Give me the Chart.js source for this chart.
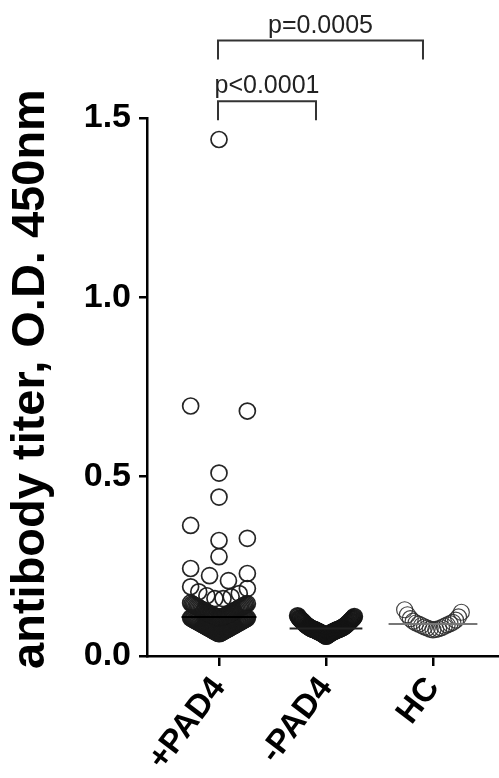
<!DOCTYPE html>
<html><head><meta charset="utf-8">
<script src="https://cdn.jsdelivr.net/npm/chart.js@4.4.1/dist/chart.umd.min.js"></script>
<style>html,body{margin:0;padding:0;background:#fff;overflow:hidden}canvas{display:block}</style>
</head><body><canvas id="c" width="499" height="778" style="width:499px;height:778px"></canvas>
<script>
// ---------- data ----------
const categories = ['+PAD4', '-PAD4', 'HC'];
const pad4Pos = [1.44, 0.697, 0.683, 0.51, 0.443, 0.364, 0.328, 0.322, 0.277, 0.244, 0.23, 0.224, 0.21,
  0.193, 0.188, 0.179, 0.174, 0.168, 0.165, 0.16, 0.16,
  0.148, 0.146, 0.145, 0.144, 0.143, 0.142, 0.141, 0.140, 0.139, 0.138, 0.137, 0.136, 0.135, 0.134,
  0.133, 0.132, 0.131, 0.130, 0.129, 0.128, 0.127, 0.126, 0.125, 0.124, 0.123, 0.122, 0.121, 0.120,
  0.119, 0.118, 0.117, 0.116, 0.116, 0.115, 0.114, 0.113, 0.113, 0.112, 0.111, 0.110, 0.110, 0.109,
  0.108, 0.108, 0.107,
  0.106, 0.106, 0.105, 0.104, 0.103, 0.103, 0.102, 0.101, 0.100, 0.100, 0.099, 0.098, 0.097, 0.097,
  0.096, 0.095, 0.094, 0.094, 0.093, 0.092, 0.091, 0.091, 0.090, 0.089, 0.088, 0.088, 0.087, 0.086,
  0.085, 0.085, 0.084, 0.083, 0.082, 0.082, 0.081, 0.080, 0.079, 0.079, 0.078, 0.077, 0.076, 0.076,
  0.075, 0.074, 0.073, 0.073, 0.072, 0.071, 0.070, 0.070, 0.069, 0.068, 0.067, 0.067, 0.066, 0.065,
  0.064, 0.064, 0.063, 0.062];
const pad4Neg = [0.112, 0.110, 0.109, 0.107, 0.106, 0.105, 0.104, 0.103, 0.102, 0.101, 0.100, 0.099,
  0.098, 0.097, 0.096, 0.095, 0.094, 0.093, 0.092, 0.091, 0.090, 0.089, 0.088, 0.087, 0.086, 0.086,
  0.085, 0.084, 0.083, 0.083, 0.082, 0.081, 0.081, 0.080, 0.079, 0.079, 0.078, 0.078, 0.077, 0.077,
  0.076, 0.076, 0.075, 0.075, 0.074, 0.074, 0.074, 0.073, 0.073, 0.073, 0.072, 0.072, 0.071, 0.071,
  0.070, 0.070, 0.069, 0.069, 0.068, 0.068, 0.067, 0.067, 0.066, 0.066, 0.065, 0.065, 0.064, 0.064,
  0.063, 0.062, 0.062, 0.061, 0.060, 0.060, 0.059, 0.058, 0.057, 0.057, 0.056, 0.055];
const healthy = [0.129, 0.122, 0.115, 0.109, 0.104, 0.100, 0.097, 0.094, 0.092, 0.090, 0.089, 0.087,
  0.085, 0.083, 0.081, 0.079, 0.078, 0.076, 0.075, 0.074, 0.073];
const yTickValues = [0, 0.5, 1.0, 1.5];
const yTitle = 'antibody titer, O.D. 450nm';
const comparisons = [
  { from: 0, to: 1, label: 'p<0.0001' },
  { from: 0, to: 2, label: 'p=0.0005' }
];
const groups = [pad4Pos, pad4Neg, healthy];

// ---------- layout helpers ----------
const FONT = "'Liberation Sans', Arial, Helvetica, sans-serif";
Chart.defaults.font.family = FONT;

// GraphPad-like scatter layout: values grouped in bands, each band spread symmetrically,
// lowest values in the middle (gives the "smile" shapes).
function swarm(values, center, bandH, half) {
  const s = values.slice().sort((a, b) => a - b);
  const pts = []; let i = 0;
  while (i < s.length) {
    const start = s[i], band = [];
    while (i < s.length && s[i] < start + bandH) { band.push(s[i]); i++; }
    const n = band.length;
    if (n === 1) { pts.push({ x: center, y: band[0] }); continue; }
    const step = 2 * half / (n - 1);
    const slots = [];
    for (let j = 0; j < n; j++) slots.push((j - (n - 1) / 2) * step);
    slots.sort((p, q) => (Math.abs(p) - Math.abs(q)) || (q - p));
    band.forEach((v, k) => pts.push({ x: center + slots[k], y: v }));
  }
  return pts;
}
function median(a) {
  const s = a.slice().sort((x, y) => x - y), m = s.length / 2;
  return s.length % 2 ? s[Math.floor(m)] : (s[m - 1] + s[m]) / 2;
}

const bandHeights = [0.045, 0.06, 0.06];
const lineHalf = [0.35, 0.34, 0.415];
const lineColors = ['#000', '#222', '#777'];
const pointStroke = ['rgba(25,25,25,0.95)', 'rgba(20,20,20,0.95)', 'rgba(45,45,45,0.9)'];
const pointWidth = [1.7, 1.7, 1.2];

const datasets = [];
groups.forEach((g, i) => {
  datasets.push({
    type: 'scatter', label: categories[i],
    data: swarm(g, i + 1, bandHeights[i], 0.265),
    pointRadius: 8, pointHoverRadius: 8,
    pointBorderWidth: pointWidth[i], pointBorderColor: pointStroke[i],
    pointBackgroundColor: 'rgba(0,0,0,0)', showLine: false, order: 2
  });
});
groups.forEach((g, i) => {
  const m = median(g);
  datasets.push({
    type: 'line', label: categories[i] + ' median',
    data: [{ x: i + 1 - lineHalf[i], y: m }, { x: i + 1 + lineHalf[i], y: m }],
    borderColor: lineColors[i], borderWidth: 2, pointRadius: 0, order: 1
  });
});

const annot = {
  id: 'annot',
  afterDraw(chart) {
    const { ctx, scales: { x, y } } = chart;
    ctx.save();
    ctx.fillStyle = '#000';
    ctx.font = 'bold 47px ' + FONT;
    ctx.textAlign = 'center'; ctx.textBaseline = 'middle';
    ctx.translate(31, 379); ctx.rotate(-Math.PI / 2);
    ctx.fillText(yTitle, 0, 0);
    ctx.restore();
    const levels = [1.547, 1.716];
    ctx.save();
    ctx.strokeStyle = '#333'; ctx.lineWidth = 2; ctx.fillStyle = '#222';
    ctx.font = '25px ' + FONT; ctx.textAlign = 'center'; ctx.textBaseline = 'alphabetic';
    comparisons.forEach((c, k) => {
      const x1 = x.getPixelForValue(c.from + 1) - 1;
      const x2 = x.getPixelForValue(c.to + 1) - 10;
      const yy = y.getPixelForValue(levels[k]);
      ctx.beginPath();
      ctx.moveTo(x1, yy + 19); ctx.lineTo(x1, yy); ctx.lineTo(x2, yy); ctx.lineTo(x2, yy + 19);
      ctx.stroke();
      ctx.fillText(c.label, (x1 + x2) / 2, yy - 8);
    });
    ctx.restore();
  }
};

new Chart(document.getElementById('c'), {
  type: 'scatter',
  data: { datasets },
  plugins: [annot],
  options: {
    responsive: false, animation: false, devicePixelRatio: 1,
    layout: { autoPadding: false, padding: { top: 118, right: 0, left: 0, bottom: 0 } },
    plugins: { legend: { display: false }, tooltip: { enabled: false } },
    scales: {
      x: {
        type: 'linear', min: 0.327, max: 3.617,
        afterBuildTicks: s => { s.ticks = categories.map((c, i) => ({ value: i + 1 })); },
        afterFit: s => { s.height = 122; s.paddingRight = 0; s.paddingLeft = 0; },
        ticks: {
          autoSkip: false, maxRotation: 53, minRotation: 53, padding: 4, color: '#000',
          font: { size: 33, weight: 'bold' },
          callback: v => categories[Math.round(v) - 1]
        },
        grid: { display: true, drawOnChartArea: false, drawTicks: true, tickLength: 10, lineWidth: 2.5, color: '#000' },
        border: { display: true, width: 2.5, color: '#000' }
      },
      y: {
        type: 'linear', min: 0, max: 1.5,
        afterBuildTicks: s => { s.ticks = yTickValues.map(v => ({ value: v })); },
        afterFit: s => { s.width = 147; s.paddingTop = 0; s.paddingBottom = 0; },
        ticks: { color: '#000', padding: 8, font: { size: 34, weight: 'bold' }, callback: v => v.toFixed(1) },
        grid: { display: true, drawOnChartArea: false, drawTicks: true, tickLength: 8, lineWidth: 2.5, color: '#000' },
        border: { display: true, width: 2.5, color: '#000' }
      }
    }
  }
});
</script></body></html>
